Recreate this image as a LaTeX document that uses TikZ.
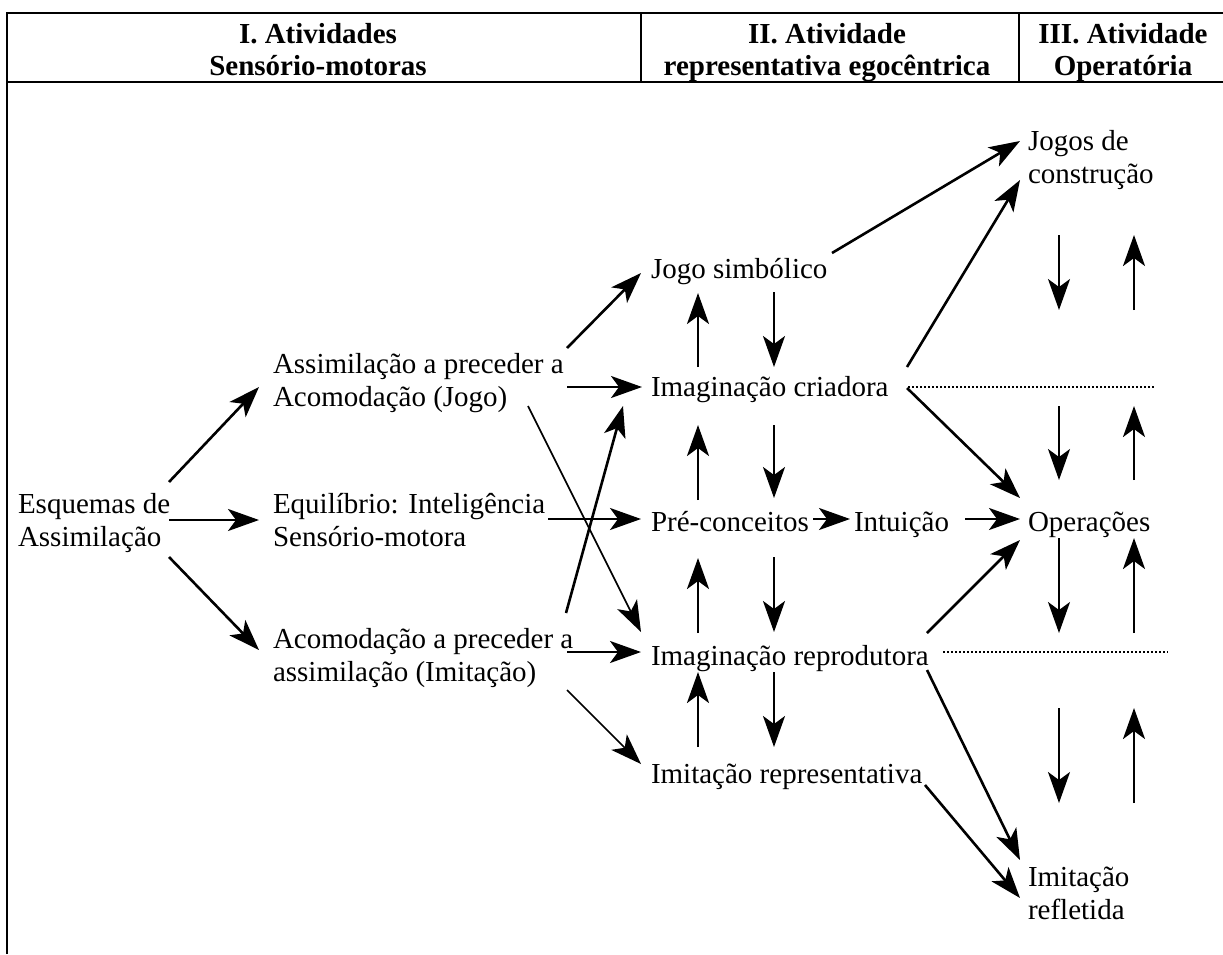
\documentclass[tikz,border=0pt]{standalone}
\usepackage{fontspec}
\setmainfont{Liberation Serif}
\usetikzlibrary{arrows.meta}
\begin{document}
\begin{tikzpicture}[x=1pt,y=-1pt,
  every node/.style={inner sep=0pt,outer sep=0pt,anchor=base west,align=left,
    font=\fontsize{29}{33}\selectfont},
  hdr/.style={anchor=base,align=center,font=\fontsize{29}{32}\selectfont\bfseries},
  frame/.style={line width=2pt},
  arr/.style={line width=2.6pt,-{Stealth[length=31pt,width=22pt,inset=8pt]}},
  thinarr/.style={line width=1.7pt,-{Stealth[length=31pt,width=22pt,inset=8pt]}},
  dots/.style={line width=1.6pt,dash pattern=on 1.6pt off 2.4pt}]
\useasboundingbox (0,0) rectangle (1223,954);
% frame
\draw[frame] (7,954) -- (7,13) -- (1223,13);
\draw[frame] (7,82) -- (1223,82);
\draw[frame] (641,13) -- (641,82);
\draw[frame] (1019,13) -- (1019,82);
% headers
\node[hdr] (h1) at (318,75) {I. Atividades\\Sensório-motoras};
\node[hdr] (h2) at (827,75) {II. Atividade\\representativa egocêntrica};
\node[hdr] (h3) at (1123,75) {III. Atividade\\Operatória};
% nodes (multi-line nodes are anchored at the baseline of their last line)
\node (esq) at (18,546) {Esquemas de\\Assimilação};
\node (assim) at (273,406) {Assimilação a preceder a\\Acomodação (Jogo)};
\node (equil) at (273,546) {Equilíbrio: Inteligência\\Sensório-motora};
\node (acom) at (273,681) {Acomodação a preceder a\\assimilação (Imitação)};
\node (jsim) at (651,278) {Jogo simbólico};
\node (icri) at (651,396) {Imaginação criadora};
\node (pre) at (651,531) {Pré-conceitos};
\node (intu) at (854,531) {Intuição};
\node (irep) at (651,665) {Imaginação reprodutora};
\node (irepr) at (651,783) {Imitação representativa};
\node (jcon) at (1028,183) {Jogos de\\construção};
\node (oper) at (1028,531) {Operações};
\node (iref) at (1028,919) {Imitação\\refletida};
% left fan
\draw[arr] ([shift={(151,-64)}]esq.base west) -- ([shift={(-14,-19)}]assim.base west);
\draw[arr] ([shift={(151,-26)}]esq.base west) -- ([shift={(-14,-26)}]equil.base west);
\draw[arr] ([shift={(151,11)}]esq.base west) -- ([shift={(-14,-31)}]acom.base west);
% second level
\draw[arr] ([shift={(294,-58)}]assim.base west) -- ([shift={(-10,-5)}]jsim.base west);
\draw[arr] ([shift={(294,-19)}]assim.base west) -- ([shift={(-9,-9)}]icri.base west);
\draw[thinarr] ([shift={(255,0)}]assim.base west) -- ([shift={(-10,-33)}]irep.base west);
\draw[arr] ([shift={(275,-27)}]equil.base west) -- ([shift={(-10,-12)}]pre.base west);
\draw[arr] ([shift={(293,-68)}]acom.base west) -- ([shift={(-28,10)}]icri.base west);
\draw[arr] ([shift={(294,-29)}]acom.base west) -- ([shift={(-10,-13)}]irep.base west);
\draw[thinarr] ([shift={(294,9)}]acom.base west) -- ([shift={(-10,-19)}]irepr.base west);
% middle column verticals
\draw[arr] ([shift={(47,-29)}]icri.base west) -- ([shift={(47,15)}]jsim.base west);
\draw[arr] ([shift={(123,14)}]jsim.base west) -- ([shift={(123,-29)}]icri.base west);
\draw[arr] ([shift={(47,-31)}]pre.base west) -- ([shift={(47,29)}]icri.base west);
\draw[arr] ([shift={(123,29)}]icri.base west) -- ([shift={(123,-33)}]pre.base west);
\draw[arr] ([shift={(47,-32)}]irep.base west) -- ([shift={(47,27)}]pre.base west);
\draw[arr] ([shift={(123,26)}]pre.base west) -- ([shift={(123,-33)}]irep.base west);
\draw[arr] ([shift={(47,-36)}]irepr.base west) -- ([shift={(47,7)}]irep.base west);
\draw[arr] ([shift={(123,7)}]irep.base west) -- ([shift={(123,-36)}]irepr.base west);
\draw[arr] ([shift={(162,-12)}]pre.base west) -- ([shift={(-4,-12)}]intu.base west);
\draw[arr] ([shift={(111,-12)}]intu.base west) -- ([shift={(-8,-12)}]oper.base west);
% to right column
\draw[arr] ([shift={(181,-25)}]jsim.base west) -- ([shift={(-8,-42)}]jcon.base west);
\draw[arr] ([shift={(256,-29)}]icri.base west) -- ([shift={(-8,-3)}]jcon.base west);
\draw[arr] ([shift={(256,-8)}]icri.base west) -- ([shift={(-8,-33)}]oper.base west);
\draw[arr] ([shift={(276,-32)}]irep.base west) -- ([shift={(-8,9)}]oper.base west);
\draw[arr] ([shift={(276,5)}]irep.base west) -- ([shift={(-8,-59)}]iref.base west);
\draw[arr] ([shift={(274,2)}]irepr.base west) -- ([shift={(-8,-21)}]iref.base west);
% dotted level lines
\coordinate (d1) at (1155,387);
\coordinate (d2) at (1168,652);
\draw[dots] ([shift={(257,-9)}]icri.base west) -- (d1);
\draw[dots] ([shift={(292,-13)}]irep.base west) -- (d2);
% right column up/down arrows
\foreach \a/\b in {235/310,406/480,538/633,708/803}{
  \draw[thinarr] (1059,\a) -- (1059,\b);
  \draw[arr] (1134,\b) -- (1134,\a);
}
\end{tikzpicture}
\end{document}
